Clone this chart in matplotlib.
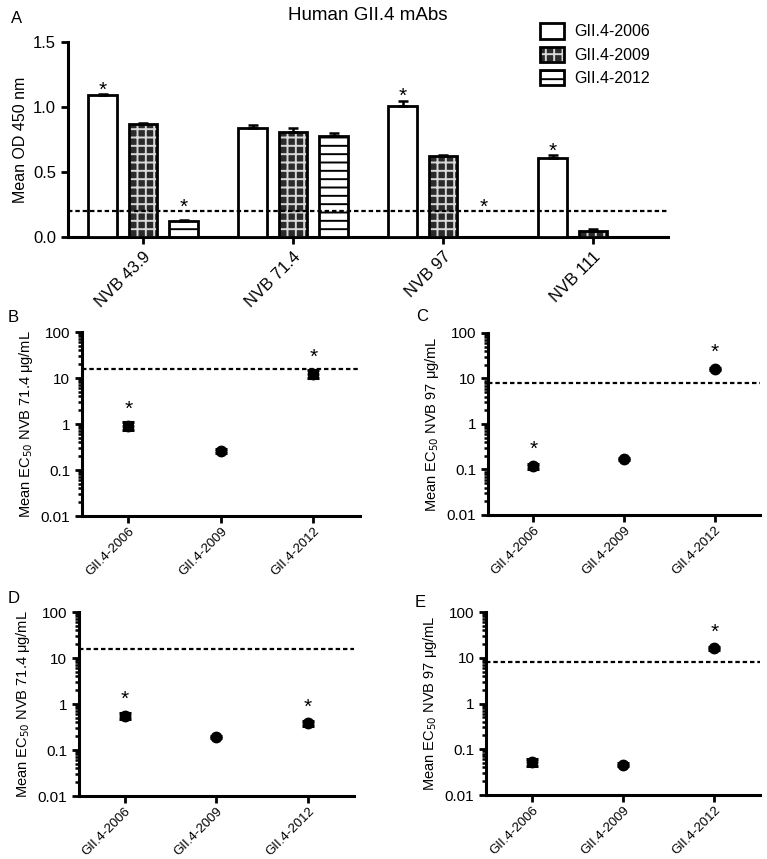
import matplotlib

matplotlib.use("Agg")
import matplotlib.pyplot as plt
from matplotlib.patches import Patch
from matplotlib.ticker import LogLocator, NullFormatter, FixedLocator, FixedFormatter

plt.rcParams.update({
    "font.family": ["Liberation Sans", "DejaVu Sans"],
    "hatch.linewidth": 1.4,
    "axes.linewidth": 2.2,
})

# --- panel A: ELISA OD ---
groups = ["NVB 43.9", "NVB 71.4", "NVB 97", "NVB 111"]
od_2006 = [1.09, 0.84, 1.01, 0.61]
od_2009 = [0.87, 0.81, 0.62, 0.05]
od_2012 = [0.125, 0.78, 0.0, 0.004]
err_2006 = [0.01, 0.02, 0.04, 0.02]
err_2009 = [0.01, 0.03, 0.01, 0.01]
err_2012 = [0.005, 0.02, 0.0, 0.0]
star_2006 = [True, False, True, True]
star_2012 = [True, False, True, False]
od_cutoff = 0.2

# --- panels B-E: EC50 ---
strains = ["GII.4-2006", "GII.4-2009", "GII.4-2012"]
b_ec50 = [0.91, 0.26, 12.5]
b_err = [0.18, 0.02, 2.5]
b_star = [True, False, True]
b_cut = 16
c_ec50 = [0.12, 0.17, 16.0]
c_err = [0.015, 0.005, 1.0]
c_star = [True, False, True]
c_cut = 8
d_ec50 = [0.55, 0.19, 0.38]
d_err = [0.08, 0.01, 0.05]
d_star = [True, False, True]
d_cut = 16
e_ec50 = [0.052, 0.046, 16.0]
e_err = [0.008, 0.003, 1.0]
e_star = [False, False, True]
e_cut = 8

DOT = (0, (2.0, 1.3))
BRICK = "#2b2b2b"

fig = plt.figure(figsize=(7.67, 8.59), dpi=100)

# ---------------- panel A ----------------
ax = fig.add_axes([0.0887, 0.724, 0.7823, 0.227])
w = 0.19
off = 0.27
xs = list(range(len(groups)))
cap = dict(ecolor="black", elinewidth=1.8, capsize=3.5, capthick=1.8)
for i in xs:
    # GII.4-2006 white
    ax.bar(i - off, od_2006[i], w, facecolor="white", edgecolor="black", lw=2, zorder=3,
           yerr=[[0], [err_2006[i]]], error_kw=cap)
    # GII.4-2009 dark brick
    ax.bar(i, od_2009[i], w, facecolor=BRICK, edgecolor="#d8d8d8", hatch="++", lw=0, zorder=3)
    ax.bar(i, od_2009[i], w, facecolor="none", edgecolor="black", lw=2, zorder=4,
           yerr=[[0], [err_2009[i]]], error_kw=cap)
    # GII.4-2012 horizontal lines
    if od_2012[i] > 0:
        ax.bar(i + off, od_2012[i], w, facecolor="white", edgecolor="black", hatch="--",
               lw=2, zorder=3, yerr=[[0], [err_2012[i]]], error_kw=cap)
for i in xs:
    if star_2006[i]:
        ax.annotate("*", (i - off, od_2006[i] + err_2006[i]), xytext=(0, -4),
                    textcoords="offset points", ha="center", va="bottom", fontsize=15)
    if star_2012[i]:
        top = max(od_2012[i] + err_2012[i], od_cutoff)
        ax.annotate("*", (i + off, top), xytext=(0, -4),
                    textcoords="offset points", ha="center", va="bottom", fontsize=15)
ax.axhline(od_cutoff, color="black", lw=1.6, ls=DOT, zorder=5)
ax.set_xlim(-0.5, 3.5)
ax.set_ylim(0, 1.5)
ax.set_yticks([0, 0.5, 1.0, 1.5])
ax.set_yticklabels(["0.0", "0.5", "1.0", "1.5"])
ax.set_xticks(xs)
ax.set_xticklabels(groups, rotation=45, ha="right", rotation_mode="anchor")
ax.tick_params(width=2, length=5, labelsize=12)
ax.spines[["top", "right"]].set_visible(False)
ax.set_ylabel("Mean OD 450 nm", fontsize=11.5)
ax.set_title("Human GII.4 mAbs", fontsize=13.5, pad=16)
h06 = Patch(facecolor="white", edgecolor="black", lw=2)
h09 = (Patch(facecolor=BRICK, edgecolor="#d8d8d8", hatch="++", lw=0),
       Patch(facecolor="none", edgecolor="black", lw=2))
h12 = Patch(facecolor="white", edgecolor="black", hatch="--", lw=2)
ax.legend([h06, h09, h12], ["GII.4-2006", "GII.4-2009", "GII.4-2012"],
          loc="upper left", bbox_to_anchor=(0.763, 1.17), frameon=False,
          fontsize=11.5, handlelength=1.5, handleheight=1.1, labelspacing=0.45,
          handletextpad=0.6)
fig.text(0.014, 0.978, "A", fontsize=12, va="center")


# ---------------- panels B-E ----------------
def ec50_panel(rect, vals, errs, stars, cut, label, letter, lpos):
    ax = fig.add_axes(rect)
    pos = list(range(len(strains)))
    ax.errorbar(pos, vals, yerr=errs, fmt="o", color="black", ms=7.5,
                elinewidth=2, capsize=4.5, capthick=2.2, zorder=3)
    for p, v, s in zip(pos, vals, stars):
        if s:
            ax.annotate("*", (p, v), xytext=(0, 5), textcoords="offset points",
                        ha="center", va="bottom", fontsize=15)
    ax.axhline(cut, color="black", lw=1.6, ls=DOT, zorder=2)
    ax.set_yscale("log")
    ax.set_ylim(0.01, 100)
    ax.set_xlim(-0.5, 2.5)
    ax.yaxis.set_major_locator(FixedLocator([0.01, 0.1, 1, 10, 100]))
    ax.yaxis.set_major_formatter(FixedFormatter(["0.01", "0.1", "1", "10", "100"]))
    ax.yaxis.set_minor_locator(LogLocator(base=10, subs=range(2, 10)))
    ax.yaxis.set_minor_formatter(NullFormatter())
    ax.set_xticks(pos)
    ax.set_xticklabels(strains, rotation=45, ha="right", rotation_mode="anchor")
    ax.tick_params(axis="y", which="major", width=2, length=5, labelsize=11)
    ax.tick_params(axis="x", which="major", width=2, length=5, labelsize=9.5, pad=1.5)
    ax.tick_params(axis="y", which="minor", width=1.8, length=3)
    ax.spines[["top", "right"]].set_visible(False)
    ax.set_ylabel(label, fontsize=10.5)
    fig.text(lpos[0], lpos[1], letter, fontsize=12, va="center")
    return ax


lab714 = "Mean EC$_{50}$ NVB 71.4 μg/mL"
lab97 = "Mean EC$_{50}$ NVB 97 μg/mL"
ec50_panel([0.107, 0.3993, 0.362, 0.2142], b_ec50, b_err, b_star, b_cut, lab714, "B", (0.010, 0.630))
ec50_panel([0.636, 0.4005, 0.355, 0.2119], c_ec50, c_err, c_star, c_cut, lab97, "C", (0.542, 0.631))
ec50_panel([0.103, 0.0733, 0.3585, 0.2142], d_ec50, d_err, d_star, d_cut, lab714, "D", (0.010, 0.303))
ec50_panel([0.634, 0.0745, 0.357, 0.2130], e_ec50, e_err, e_star, e_cut, lab97, "E", (0.540, 0.299))

fig.savefig("out.png", dpi=100)
